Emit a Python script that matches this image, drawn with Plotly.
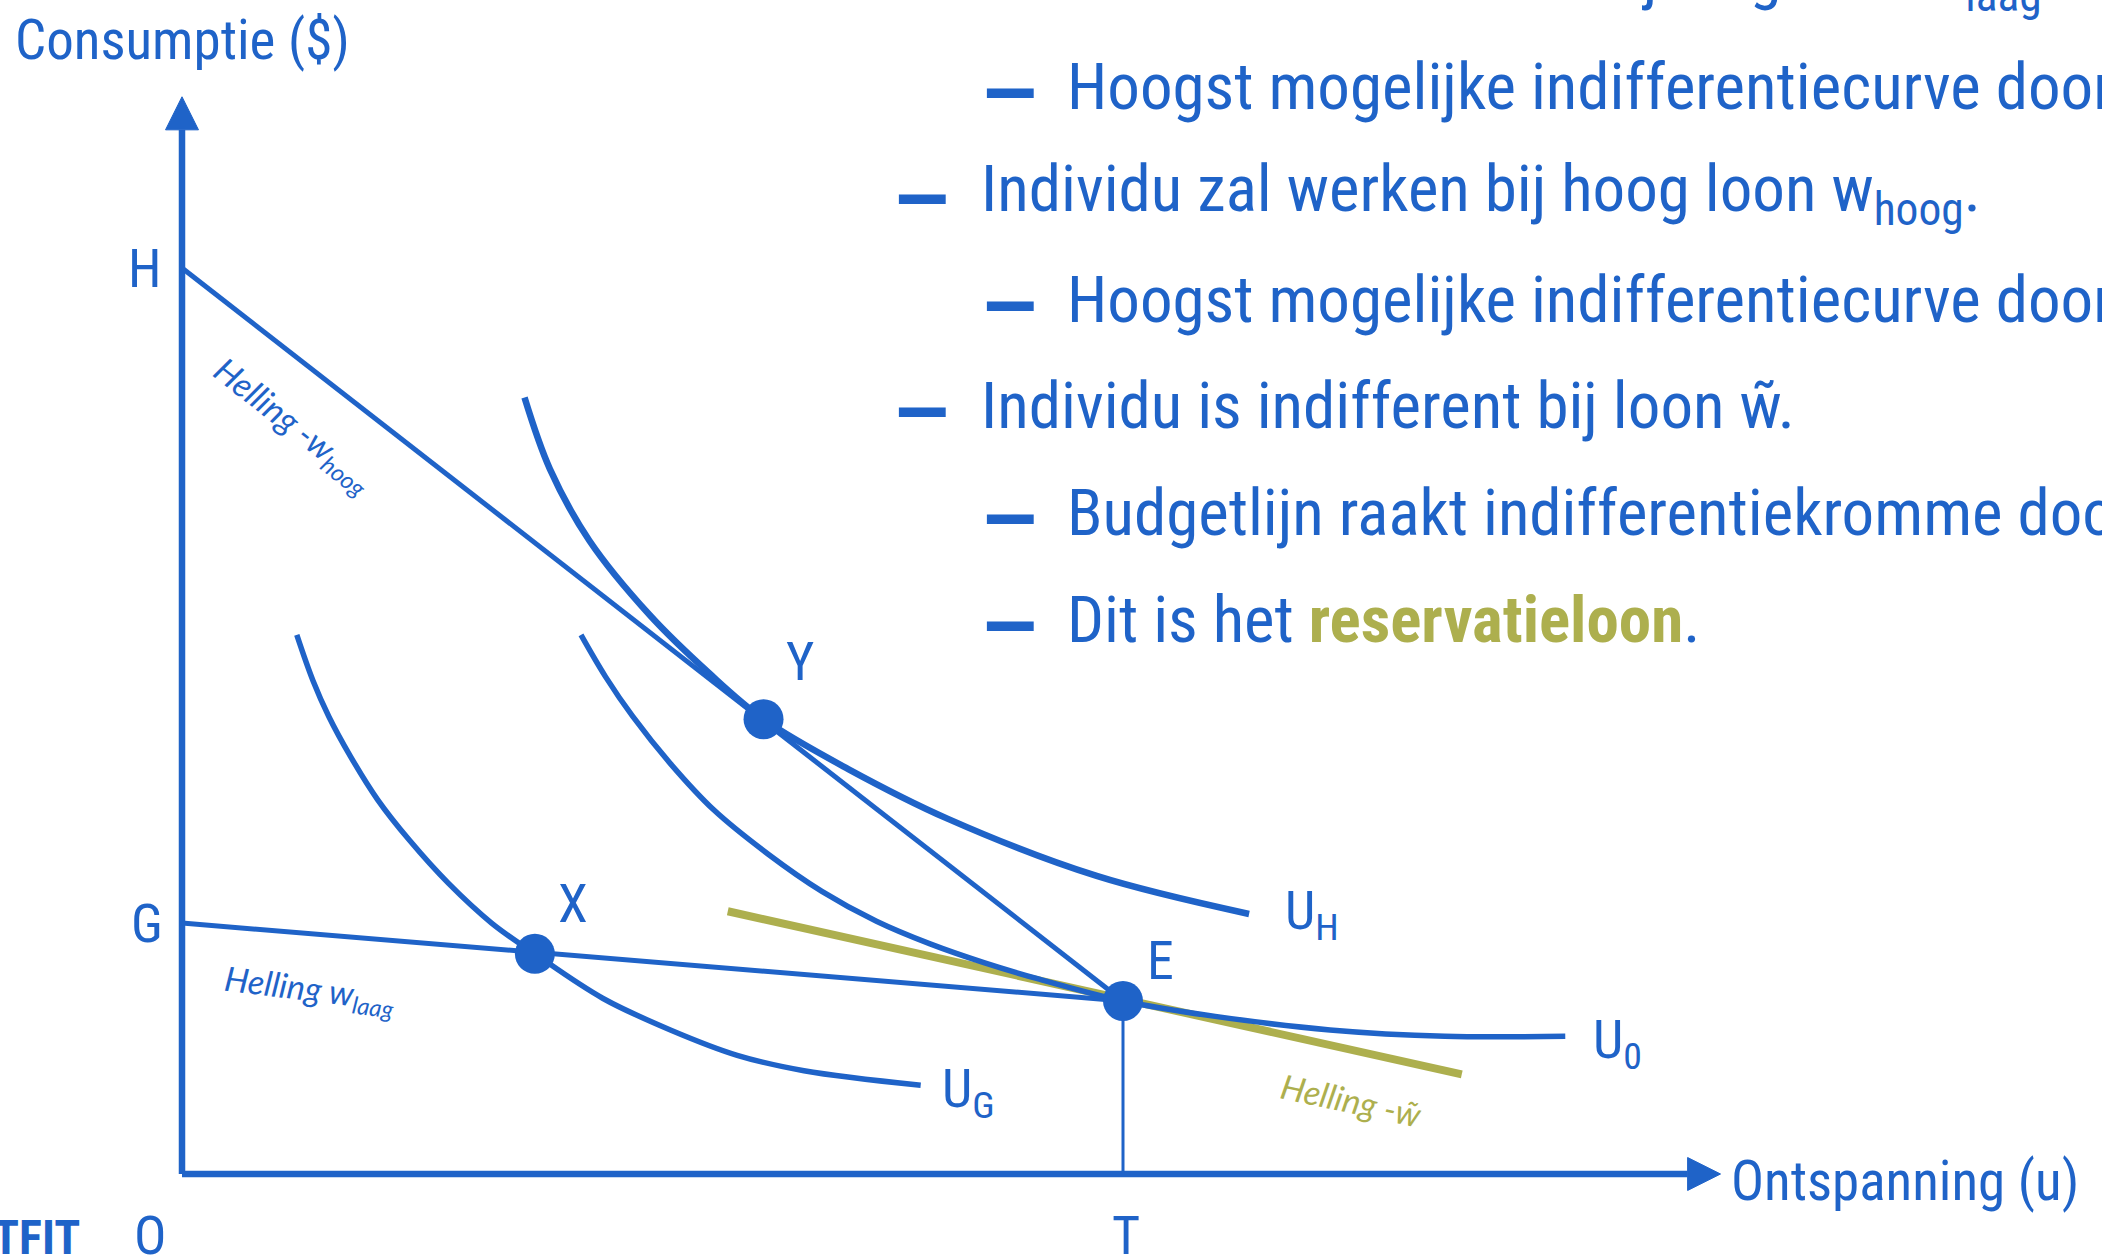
import plotly.graph_objects as go

BLUE = "#1f63c8"
OLIVE = "#adaf4e"
FONT = "Roboto Condensed, Liberation Sans Narrow, Lato, sans-serif"
ITALIC = "Lato, Noto Sans, sans-serif"

# leisure (u) on x, consumption ($) on y; T and H both put at 10
T = 10.0
H = 10.0
G = 2.77
E_Y = 1.91
X_AXIS_END = 16.35
Y_AXIS_END = 11.89

budget_high_x = [0, T]
budget_high_y = [H, E_Y]
budget_low_x = [0, T]
budget_low_y = [G, E_Y]

ug_x = [1.22, 1.39, 1.56, 1.79, 2.08, 2.42, 2.83, 3.29, 3.75, 4.47, 5.19, 5.90, 6.61, 7.85]
ug_y = [5.95, 5.45, 5.05, 4.61, 4.13, 3.68, 3.21, 2.77, 2.43, 1.94, 1.59, 1.31, 1.14, 0.98]

uh_x = [3.64, 3.91, 4.33, 4.97, 5.60, 6.18, 7.08, 8.14, 9.72, 11.34]
uh_y = [8.57, 7.78, 6.99, 6.17, 5.53, 5.02, 4.47, 3.92, 3.29, 2.87]

u0_x = [4.24, 4.50, 4.79, 5.19, 5.65, 6.23, 6.80, 7.38, 7.95, 8.53, 9.11,
        10.0, 10.98, 12.20, 13.42, 14.70]
u0_y = [5.95, 5.49, 5.05, 4.53, 4.02, 3.53, 3.12, 2.79, 2.54, 2.33, 2.15,
        1.91, 1.74, 1.59, 1.52, 1.52]

tangent_x = [5.80, 13.60]
tangent_y = [2.90, 1.10]

point_names = ["X", "Y", "E"]
point_x = [3.75, 6.18, 10.0]
point_y = [2.43, 5.02, 1.91]

bullets = [
    (1, "Individu zal niet werken bij laag loon w<sub>laag</sub>."),
    (2, "Hoogst mogelijke indifferentiecurve door X."),
    (1, "Individu zal werken bij hoog loon w<sub>hoog</sub>."),
    (2, "Hoogst mogelijke indifferentiecurve door Y."),
    (1, "Individu is indifferent bij loon w\u0303."),
    (2, "Budgetlijn raakt indifferentiekromme door E."),
    (2, "Dit is het <b><span style='color:%s'>reservatieloon</span></b>." % OLIVE),
]

# pixel geometry of the page -> axis ranges
PX_X, PX_Y = 94.1, 90.6
ORIGIN_X, ORIGIN_Y = 182, 1174
W, HGT = 2102, 1256

fig = go.Figure()


def line(x, y, color=BLUE, width=5.5, spline=False):
    fig.add_trace(go.Scatter(
        x=x, y=y, mode="lines", hoverinfo="skip",
        line=dict(color=color, width=width, shape="spline" if spline else "linear"),
    ))


# axes with arrow heads
ah_len_x, ah_half_x = 0.35, 0.182
ah_len_y, ah_half_y = 0.365, 0.175
line([0, X_AXIS_END - ah_len_x], [0, 0], width=6.5)
line([0, 0], [0, Y_AXIS_END - ah_len_y], width=6.5)
fig.add_trace(go.Scatter(
    x=[X_AXIS_END - ah_len_x, X_AXIS_END, X_AXIS_END - ah_len_x, X_AXIS_END - ah_len_x],
    y=[ah_half_x, 0, -ah_half_x, ah_half_x],
    fill="toself", fillcolor=BLUE, mode="lines", line=dict(color=BLUE, width=1), hoverinfo="skip",
))
fig.add_trace(go.Scatter(
    x=[-ah_half_y, 0, ah_half_y, -ah_half_y],
    y=[Y_AXIS_END - ah_len_y, Y_AXIS_END, Y_AXIS_END - ah_len_y, Y_AXIS_END - ah_len_y],
    fill="toself", fillcolor=BLUE, mode="lines", line=dict(color=BLUE, width=1), hoverinfo="skip",
))

line([T, T], [0, E_Y], width=3)
line(tangent_x, tangent_y, color=OLIVE, width=8)
line(budget_high_x, budget_high_y, width=5)
line(budget_low_x, budget_low_y, width=5)
line(ug_x, ug_y, spline=True)
line(uh_x, uh_y, width=6.5, spline=True)
line(u0_x, u0_y, spline=True)

fig.add_trace(go.Scatter(
    x=point_x, y=point_y, mode="markers", hoverinfo="skip",
    marker=dict(color=BLUE, size=40),
))


def label(x, y, text, size=54, color=BLUE, family=FONT, xanchor="center", angle=0,
          italic=False, ref="data"):
    fig.add_annotation(
        x=x, y=y, text=text, showarrow=False, xanchor=xanchor, yanchor="middle",
        xref="x" if ref == "data" else "paper", yref="y" if ref == "data" else "paper",
        textangle=angle, font=dict(family=family, size=size, color=color,
                                   style="italic" if italic else "normal"),
    )


label(0, 12.52, "Consumptie ($)", size=55)
label(16.44, -0.08, "Ontspanning (u)", size=55, xanchor="left")
label(-0.39, H, "H")
label(-0.37, G, "G")
label(-0.34, -0.68, "O")
label(T + 0.03, -0.68, "T")
label(4.15, 2.99, "X")
label(6.57, 5.66, "Y")
label(10.40, 2.36, "E")
label(11.70, 2.87, "U<sub>H</sub>", xanchor="left")
label(14.97, 1.45, "U<sub>0</sub>", xanchor="left")
label(8.06, 0.90, "U<sub>G</sub>", xanchor="left")
label(1.18, 8.27, "Helling -w<sub>hoog</sub>", size=34, family=ITALIC, angle=38, italic=True)
label(1.36, 2.03, "Helling w<sub>laag</sub>", size=34, family=ITALIC, angle=7, italic=True)
label(12.42, 0.82, "Helling -w\u0303", size=34, color=OLIVE, family=ITALIC, angle=12, italic=True)
label(-1.06, -0.70, "<b>TFIT</b>", size=48, xanchor="right")

# bullet list, partly running off the page (placed in page pixels)
row_top, row_step, dash_drop = -20, 106.6, 7
for i, (level, text) in enumerate(bullets):
    yp = row_top + i * row_step
    dash_px, text_px = (892, 978.6) if level == 1 else (980, 1064.5)
    label(dash_px / W, 1 - (yp + dash_drop) / HGT, "<b>\u2014</b>", size=82, xanchor="left", ref="paper")
    label(text_px / W, 1 - yp / HGT, text, size=65, xanchor="left", ref="paper")

fig.update_layout(
    width=W, height=HGT,
    margin=dict(l=0, r=0, t=0, b=0),
    paper_bgcolor="white", plot_bgcolor="white",
    showlegend=False,
    xaxis=dict(visible=False, range=[-ORIGIN_X / PX_X, (W - ORIGIN_X) / PX_X], fixedrange=True),
    yaxis=dict(visible=False, range=[-(HGT - ORIGIN_Y) / PX_Y, ORIGIN_Y / PX_Y], fixedrange=True),
)

fig.write_html(
    "out.html",
    config={"displayModeBar": False},
    post_script="document.body.style.margin='0';document.body.style.overflow='hidden';",
)
